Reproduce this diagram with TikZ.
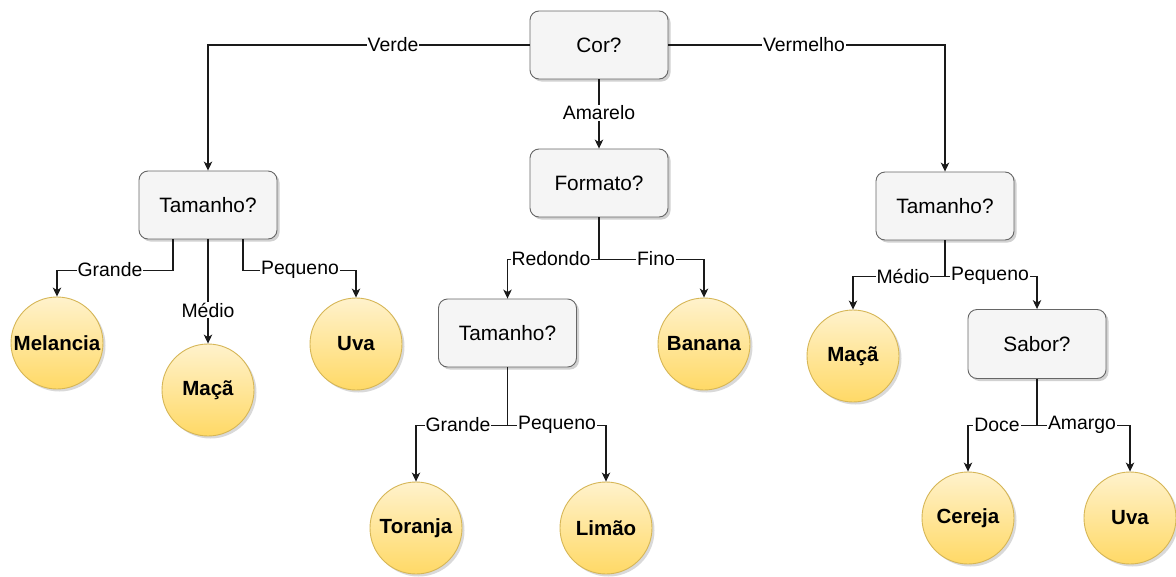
\documentclass[tikz,border=0pt]{standalone}
\usepackage{fontspec}
\setmainfont{Liberation Sans}
\usetikzlibrary{arrows.meta,shadows,shapes.geometric}
\definecolor{boxfill}{HTML}{F5F5F5}
\definecolor{boxline}{HTML}{666666}
\definecolor{leaftop}{HTML}{FFF2CC}
\definecolor{leafbot}{HTML}{FFD966}
\definecolor{leafline}{HTML}{D6B656}
\definecolor{edgecol}{HTML}{1A1A1A}
\tikzset{
  qbox/.style={rectangle, rounded corners=9pt, draw=boxline, fill=boxfill, line width=0.9pt,
    minimum width=138pt, minimum height=68pt, inner sep=0pt,
    font=\fontsize{20.8}{24}\selectfont,
    drop shadow={shadow xshift=2.5pt, shadow yshift=-2.5pt, fill=black, opacity=0.18}},
  leaf/.style={circle, draw=leafline, line width=0.9pt, shading=axis, top color=leaftop, bottom color=leafbot,
    minimum size=92pt, inner sep=0pt,
    font=\fontsize{20.5}{24}\selectfont\bfseries,
    drop shadow={shadow xshift=2.5pt, shadow yshift=-2.5pt, fill=black, opacity=0.15}},
  edge/.style={draw=edgecol, line width=1.1pt, -{Stealth[length=9pt,width=8.5pt,inset=2.5pt]}},
  lbl/.style={fill=white, inner sep=1pt, font=\fontsize{19.4}{22}\selectfont, text=black}
}
\begin{document}
\begin{tikzpicture}[x=1pt,y=-1pt]
\useasboundingbox[fill=white] (0,0) rectangle (1176,576);
% decision nodes
\node[qbox] (cor) at (599,45) {Cor?};
\node[qbox] (formato) at (599,183) {Formato?};
\node[qbox] (t1) at (208,205) {Tamanho?};
\node[qbox] (t2) at (507.5,333) {Tamanho?};
\node[qbox] (t3) at (945,206) {Tamanho?};
\node[qbox, minimum height=69pt] (sabor) at (1037,344) {Sabor?};
% leaves
\node[leaf] (melancia) at (57,343) {Melancia};
\node[leaf] (maca1) at (208,390) {Maçã};
\node[leaf] (uva1) at (356,344) {Uva};
\node[leaf] (banana) at (704,344) {Banana};
\node[leaf] (toranja) at (416,528) {Toranja};
\node[leaf] (limao) at (606,528) {Limão};
\node[leaf] (maca2) at (853,356) {Maçã};
\node[leaf] (cereja) at (968,518) {Cereja};
\node[leaf] (uva2) at (1130,518) {Uva};
% edges
\draw[edge] (cor.west) -| (t1.north);
\draw[edge] (cor.east) -| (t3.north);
\draw[edge] (cor.south) -- (formato.north);
\draw[edge] (formato.south) -- ++(0,42) -| (t2.north);
\draw[edge] (formato.south) -- ++(0,42) -| (banana.north);
\draw[edge] ([xshift=-35pt]t1.south) -- ++(0,31) -| (melancia.north);
\draw[edge] (t1.south) -- (maca1.north);
\draw[edge] ([xshift=35pt]t1.south) -- ++(0,31) -| (uva1.north);
\draw[edge] (t2.south) -- ++(0,58) -| (toranja.north);
\draw[edge] (t2.south) -- ++(0,58) -| (limao.north);
\draw[edge] (t3.south) -- ++(0,36) -| (maca2.north);
\draw[edge] (t3.south) -- ++(0,36) -| (sabor.north);
\draw[edge] (sabor.south) -- ++(0,46.5) -| (cereja.north);
\draw[edge] (sabor.south) -- ++(0,46.5) -| (uva2.north);
% edge labels
\node[lbl] (lverde) at (393,45) {Verde};
\node[lbl] (lvermelho) at (804,45) {Vermelho};
\node[lbl] (lamarelo) at (599,113) {Amarelo};
\node[lbl] (lredondo) at (551,259) {Redondo};
\node[lbl] (lfino) at (656,259) {Fino};
\node[lbl] (lgrande1) at (110,270) {Grande};
\node[lbl] (lmedio1) at (208,310) {Médio};
\node[lbl] (lpequeno1) at (300,270) {Pequeno};
\node[lbl] (lgrande2) at (458,425) {Grande};
\node[lbl] (lpequeno2) at (557,425) {Pequeno};
\node[lbl] (lmedio2) at (903,276) {Médio};
\node[lbl] (lpequeno3) at (990,276) {Pequeno};
\node[lbl] (ldoce) at (997,425) {Doce};
\node[lbl] (lamargo) at (1082,425) {Amargo};
\end{tikzpicture}
\end{document}
